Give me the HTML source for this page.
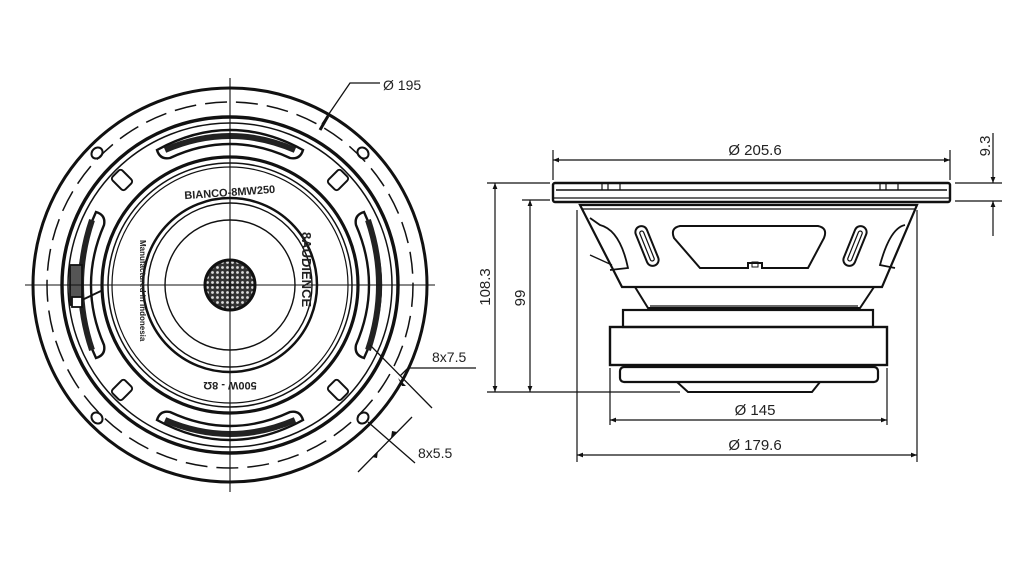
<!DOCTYPE html>
<html><head><meta charset="utf-8"><style>
html,body{margin:0;padding:0;background:#fff;}
svg{display:block;}
text{font-family:"Liberation Sans",sans-serif;fill:#222;}
</style></head><body>
<svg width="1024" height="568" viewBox="0 0 1024 568" xmlns="http://www.w3.org/2000/svg">
<defs>
<marker id="ar" viewBox="0 0 10 10" refX="10" refY="5" markerWidth="12" markerHeight="6" orient="auto-start-reverse" markerUnits="userSpaceOnUse"><path d="M0,1 L10,5 L0,9 z" fill="#111"/></marker>
<pattern id="dots" width="5" height="5" patternUnits="userSpaceOnUse"><rect width="5" height="5" fill="#333"/><circle cx="2.5" cy="2.5" r="1.4" fill="#ddd"/></pattern>
</defs>
<rect width="1024" height="568" fill="#fff"/>
<!-- FRONT VIEW -->
<g fill="none" stroke="#111">
<circle cx="230" cy="285" r="197" stroke-width="3"/>
<circle cx="230" cy="285" r="183" stroke-width="1.5" stroke-dasharray="22 9"/>
<circle cx="230" cy="285" r="168" stroke-width="3.4"/>
<circle cx="230" cy="285" r="162" stroke-width="1.5"/>
<circle cx="230" cy="285" r="128" stroke-width="3.2"/>
<circle cx="230" cy="285" r="122" stroke-width="1.5"/>
<circle cx="230" cy="285" r="118" stroke-width="1.2"/>
<circle cx="230" cy="285" r="87" stroke-width="2.5"/>
<circle cx="230" cy="285" r="82" stroke-width="1.4"/>
<circle cx="230" cy="285" r="65" stroke-width="1.4"/>
<circle cx="230" cy="285" r="25" stroke-width="3" fill="url(#dots)"/>
<!-- slots -->
<g stroke-width="2.4">
<path d="M157,150 Q230,110 303,150 Q300,160 290,158 Q230,130 170,158 Q160,160 157,150Z"/>
<path d="M157,420 Q230,460 303,420 Q300,410 290,412 Q230,440 170,412 Q160,410 157,420Z"/>
<path d="M96,212 Q62,285 96,358 Q106,355 104,345 Q78,285 104,225 Q106,215 96,212Z"/>
<path d="M364,212 Q398,285 364,358 Q354,355 356,345 Q382,285 356,225 Q354,215 364,212Z"/>
</g>
<g stroke-width="6" stroke="#222">
<path d="M165,150 Q230,122 295,150"/><path d="M165,420 Q230,448 295,420"/>
<path d="M92,220 Q70,285 92,350"/><path d="M368,220 Q390,285 368,350"/>
</g>
<!-- tabs -->
<g stroke-width="2">
<rect x="-9" y="-7" width="18" height="14" rx="3" transform="translate(122,180) rotate(45)"/>
<rect x="-9" y="-7" width="18" height="14" rx="3" transform="translate(338,180) rotate(-45)"/>
<rect x="-9" y="-7" width="18" height="14" rx="3" transform="translate(122,390) rotate(-45)"/>
<rect x="-9" y="-7" width="18" height="14" rx="3" transform="translate(338,390) rotate(45)"/>
<ellipse cx="0" cy="0" rx="5" ry="6" transform="translate(97,153) rotate(45)"/>
<ellipse cx="0" cy="0" rx="5" ry="6" transform="translate(363,153) rotate(-45)"/>
<ellipse cx="0" cy="0" rx="5" ry="6" transform="translate(97,418) rotate(-45)"/>
<ellipse cx="0" cy="0" rx="5" ry="6" transform="translate(363,418) rotate(45)"/>
</g>
<!-- terminals -->
<g stroke-width="1.8"><rect x="70" y="265" width="12" height="40" fill="#555"/><rect x="72" y="297" width="10" height="10" fill="#fff"/><line x1="82" y1="300" x2="103" y2="290"/></g>
<!-- center lines -->
<g stroke-width="1.1"><line x1="25" y1="285" x2="435" y2="285"/><line x1="230" y1="78" x2="230" y2="492"/></g>
<!-- leaders -->
<g stroke-width="1.3">
<polyline points="322,124 350,83 380,83"/>
<line x1="320" y1="130" x2="328" y2="116" stroke-width="3"/>
<polyline points="400,376 408,368 476,368"/>
<line x1="370" y1="345" x2="432" y2="408"/>
<polyline points="415,463 368,422"/>
<line x1="358" y1="472" x2="412" y2="417"/>
</g>
</g>
<g fill="#111">
<path d="M398,378 l8,8 l-4,0z"/><path d="M372,457 l6,-6 l-1,7z"/><path d="M397,432 l-6,6 l1,-7z"/>
</g>
<g font-weight="bold" font-size="11" fill="#222">
<text x="230" y="196" text-anchor="middle" transform="rotate(-4 230 196)">BIANCO-8MW250</text>
<text x="230" y="390" text-anchor="middle" transform="rotate(180 230 386)">500W - 8Ω</text>
<text x="0" y="0" font-size="13" transform="translate(302,232) rotate(90)">8AUDIENCE</text>
<text x="0" y="0" font-size="8" transform="translate(140,240) rotate(90)">Manufactured in Indonesia</text>
</g>
<g font-size="14">
<text x="383" y="90">Ø 195</text>
<text x="432" y="362">8x7.5</text>
<text x="418" y="458">8x5.5</text>
</g>
<!-- SIDE VIEW -->
<g fill="none" stroke="#111">
<rect x="553" y="183" width="397" height="19" rx="2" stroke-width="2.4"/>
<line x1="556" y1="190" x2="947" y2="190" stroke-width="1.4"/>
<line x1="553" y1="198" x2="950" y2="198" stroke-width="1.2"/>
<g stroke-width="1.2"><line x1="602" y1="184" x2="602" y2="190"/><line x1="608" y1="184" x2="608" y2="190"/><line x1="620" y1="184" x2="620" y2="190"/><line x1="880" y1="184" x2="880" y2="190"/><line x1="886" y1="184" x2="886" y2="190"/><line x1="898" y1="184" x2="898" y2="190"/></g>
<path d="M580,205 L917,205 L882,287 L622,287 Z" stroke-width="2.2"/>
<line x1="582" y1="209" x2="915" y2="209" stroke-width="1.2"/>
<path d="M635,287 L648,308 L860,308 L874,287" stroke-width="2"/>
<line x1="650" y1="306" x2="858" y2="306" stroke-width="1.2"/>
<path d="M680,226 L818,226 Q828,228 824,238 L808,268 L762,268 L762,263 L748,263 L748,268 L700,268 L674,238 Q670,228 680,226Z" stroke-width="2"/>
<rect x="752" y="262" width="6" height="5" stroke-width="1"/>
<rect x="-6" y="-21" width="12" height="42" rx="6" transform="translate(647,246) rotate(-22)" stroke-width="2"/>
<rect x="-2" y="-16" width="4" height="32" rx="2" transform="translate(647,246) rotate(-22)" stroke-width="1.2"/>
<rect x="-6" y="-21" width="12" height="42" rx="6" transform="translate(855,246) rotate(22)" stroke-width="2"/>
<rect x="-2" y="-16" width="4" height="32" rx="2" transform="translate(855,246) rotate(22)" stroke-width="1.2"/>
<path d="M590,218 L600,225 Q620,230 628,268 L610,270" stroke-width="1.8"/>
<path d="M905,225 Q890,228 880,265 L895,268" stroke-width="1.8"/>
<line x1="590" y1="255" x2="612" y2="265" stroke-width="1.3"/>
<rect x="623" y="310" width="250" height="17" stroke-width="2.2"/>
<rect x="610" y="327" width="277" height="38" stroke-width="2.4"/>
<rect x="620" y="367" width="258" height="15" rx="4" stroke-width="2.2"/>
<path d="M677,382 L688,392 L812,392 L820,382" stroke-width="2"/>
<g stroke-width="1.2">
<line x1="553" y1="150" x2="553" y2="180"/><line x1="950" y1="150" x2="950" y2="180"/>
<line x1="553" y1="160" x2="950" y2="160" marker-start="url(#ar)" marker-end="url(#ar)"/>
<line x1="955" y1="183" x2="1002" y2="183"/><line x1="955" y1="201" x2="1002" y2="201"/>
<line x1="993" y1="133" x2="993" y2="183" marker-end="url(#ar)"/>
<line x1="993" y1="236" x2="993" y2="201" marker-end="url(#ar)"/>
<line x1="487" y1="183" x2="550" y2="183"/><line x1="522" y1="200" x2="550" y2="200"/>
<line x1="487" y1="392" x2="680" y2="392"/>
<line x1="495" y1="183" x2="495" y2="392" marker-start="url(#ar)" marker-end="url(#ar)"/>
<line x1="530" y1="200" x2="530" y2="392" marker-start="url(#ar)" marker-end="url(#ar)"/>
<line x1="577" y1="210" x2="577" y2="462"/><line x1="917" y1="210" x2="917" y2="462"/>
<line x1="610" y1="368" x2="610" y2="425"/><line x1="887" y1="368" x2="887" y2="425"/>
<line x1="610" y1="420" x2="887" y2="420" marker-start="url(#ar)" marker-end="url(#ar)"/>
<line x1="577" y1="455" x2="917" y2="455" marker-start="url(#ar)" marker-end="url(#ar)"/>
</g>
</g>
<g font-size="15">
<text x="755" y="155" text-anchor="middle">Ø 205.6</text>
<text x="755" y="415" text-anchor="middle">Ø 145</text>
<text x="755" y="450" text-anchor="middle">Ø 179.6</text>
<text transform="translate(490,287) rotate(-90)" text-anchor="middle">108.3</text>
<text transform="translate(525,298) rotate(-90)" text-anchor="middle">99</text>
<text transform="translate(990,146) rotate(-90)" text-anchor="middle">9.3</text>
</g>
</svg>
</body></html>
